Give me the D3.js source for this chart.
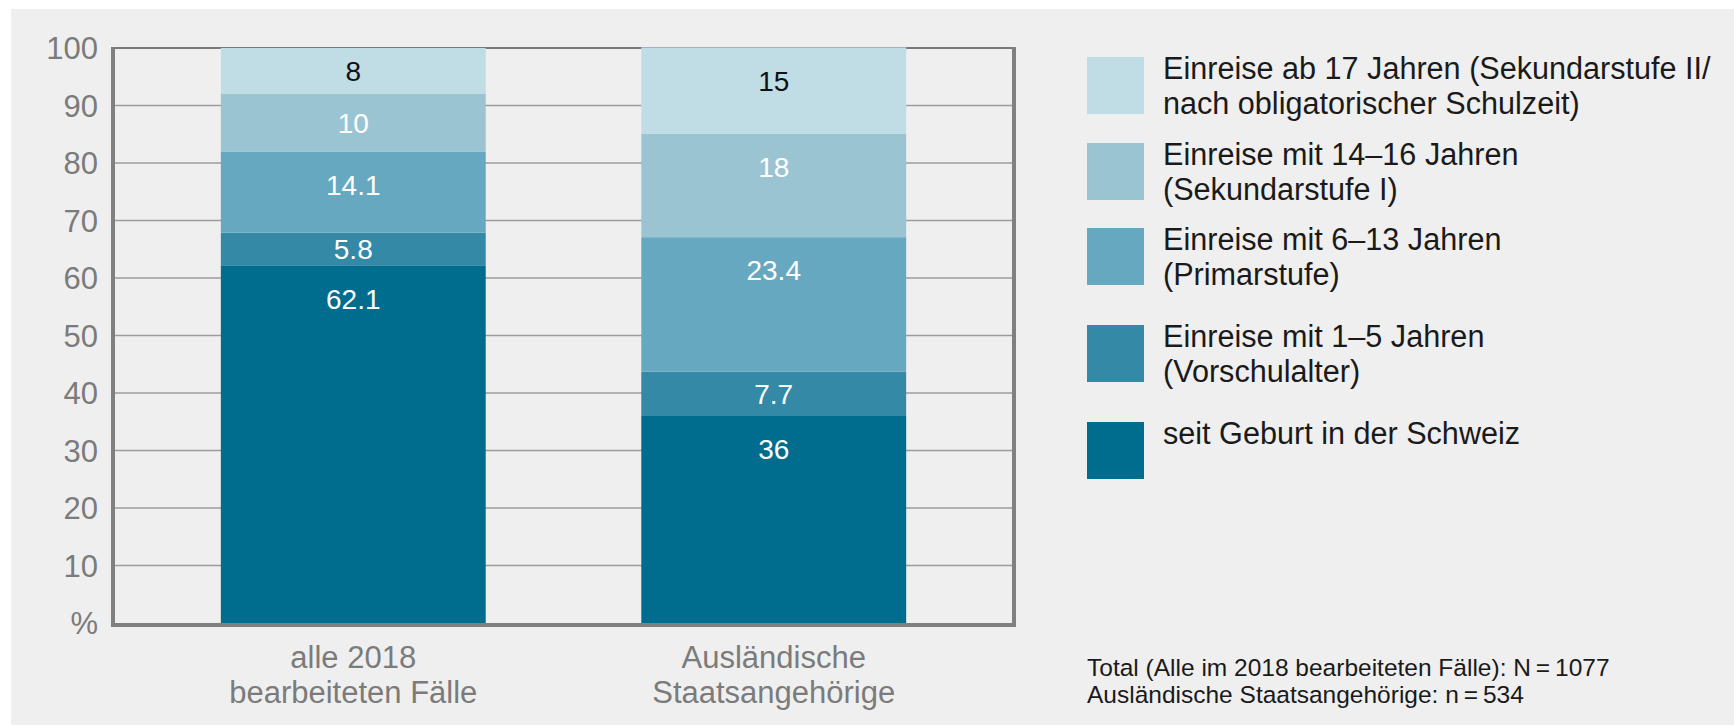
<!DOCTYPE html>
<html>
<head>
<meta charset="utf-8">
<script src="https://cdn.jsdelivr.net/npm/d3@7"></script>
<style>
  body { margin: 0; background: #fff; }
  svg text { font-family: "Liberation Sans", Arial, Helvetica, sans-serif; }
</style>
</head>
<body>
<svg id="chart" width="1734" height="726"></svg>
<script>
// categories (x labels, one entry per line)
var categories = ["alle", "auslaender"];
var categoryLines = [["alle 2018", "bearbeiteten Fälle"], ["Ausländische", "Staatsangehörige"]];

// series values (in %), bottom to top
var seitGeburt   = [62.1, 36];
var mit1bis5     = [5.8, 7.7];
var mit6bis13    = [14.1, 23.4];
var mit14bis16   = [10, 18];
var ab17         = [8, 15];

var seriesKeys = ["geburt", "m1_5", "m6_13", "m14_16", "ab17"];
var seriesLabels = [
  ["seit Geburt in der Schweiz"],
  ["Einreise mit 1\u20135 Jahren", "(Vorschulalter)"],
  ["Einreise mit 6\u201313 Jahren", "(Primarstufe)"],
  ["Einreise mit 14\u201316 Jahren", "(Sekundarstufe I)"],
  ["Einreise ab 17 Jahren (Sekundarstufe II/", "nach obligatorischer Schulzeit)"]
];
var seriesColors = ["#006d8f", "#3389a6", "#66a8c0", "#9bc4d2", "#c0dde6"];

var yTicks = [0, 10, 20, 30, 40, 50, 60, 70, 80, 90, 100];
var yTickLabels = ["%", "10", "20", "30", "40", "50", "60", "70", "80", "90", "100"];

var footnotes = ["Total (Alle im 2018 bearbeiteten Fälle): N\u2009=\u20091077",
                 "Ausländische Staatsangehörige: n\u2009=\u2009534"];

// build table for d3.stack
var table = categories.map(function(c, i) {
  return { cat: c, geburt: seitGeburt[i], m1_5: mit1bis5[i], m6_13: mit6bis13[i],
           m14_16: mit14bis16[i], ab17: ab17[i] };
});

var svg = d3.select("#chart");
var plotL = 113, plotR = 1014, plotT = 48, plotB = 623;

svg.append("rect").attr("x", 11).attr("y", 9).attr("width", 1723).attr("height", 716)
  .attr("fill", "#efefef");

var x = d3.scaleBand().domain(categories).range([plotL, plotR])
  .paddingInner(0.37).paddingOuter(0.2565);
var y = d3.scaleLinear().domain([0, 100]).range([plotB, plotT]);

// grid lines
svg.append("g").selectAll("line")
  .data(yTicks.filter(function(d) { return d > 0; }))
  .enter().append("line")
  .attr("x1", plotL).attr("x2", plotR)
  .attr("y1", function(d) { return y(d); }).attr("y2", function(d) { return y(d); })
  .attr("stroke", function(d) { return d === 100 ? "#7a7a7a" : "#9c9c9c"; })
  .attr("stroke-width", function(d) { return d === 100 ? 2 : 1.5; });

// y tick labels
svg.append("g").selectAll("text")
  .data(yTicks)
  .enter().append("text")
  .attr("x", 98).attr("y", function(d) { return y(d); })
  .attr("dy", "0.36em")
  .attr("text-anchor", "end")
  .attr("font-size", 31)
  .attr("fill", "#7b7b7b")
  .text(function(d, i) { return yTickLabels[i]; });

// stacked bars
var stacked = d3.stack().keys(seriesKeys)(table);

var layers = svg.append("g").selectAll("g")
  .data(stacked)
  .enter().append("g")
  .attr("fill", function(d, i) { return seriesColors[i]; });

layers.selectAll("rect")
  .data(function(d) { return d; })
  .enter().append("rect")
  .attr("x", function(d) { return x(d.data.cat); })
  .attr("width", x.bandwidth())
  .attr("y", function(d) { return y(d[1]); })
  .attr("height", function(d) { return y(d[0]) - y(d[1]); });

// value labels: near top of segment, or centred when segment is small
layers.each(function(layer, li) {
  d3.select(this).selectAll("text")
    .data(layer)
    .enter().append("text")
    .attr("x", function(d) { return x(d.data.cat) + x.bandwidth() / 2; })
    .attr("y", function(d) {
      var t = y(d[1]), mid = (y(d[0]) + y(d[1])) / 2;
      return Math.min(t + 33, mid);
    })
    .attr("dy", "0.36em")
    .attr("text-anchor", "middle")
    .attr("font-size", 28)
    .attr("fill", li === seriesKeys.length - 1 ? "#111" : "#fff")
    .text(function(d) { return d.data[layer.key]; });
});

// axes frame
svg.append("line").attr("x1", plotL).attr("x2", plotL).attr("y1", plotT - 1).attr("y2", plotB + 4)
  .attr("stroke", "#808080").attr("stroke-width", 4);
svg.append("line").attr("x1", plotR).attr("x2", plotR).attr("y1", plotT - 1).attr("y2", plotB + 4)
  .attr("stroke", "#808080").attr("stroke-width", 4);
svg.append("line").attr("x1", plotL - 2).attr("x2", plotR + 2).attr("y1", plotB + 2).attr("y2", plotB + 2)
  .attr("stroke", "#808080").attr("stroke-width", 4);

// x labels
svg.append("g").selectAll("text")
  .data(categories)
  .enter().append("text")
  .attr("text-anchor", "middle")
  .attr("font-size", 31)
  .attr("fill", "#7b7b7b")
  .each(function(c, i) {
    var t = d3.select(this);
    categoryLines[i].forEach(function(line, j) {
      t.append("tspan").attr("x", x(c) + x.bandwidth() / 2).attr("y", 668 + j * 35).text(line);
    });
  });

// legend, top item first
var legendY = [57, 143, 228, 325, 422];
var order = [4, 3, 2, 1, 0];
var legend = svg.append("g").selectAll("g")
  .data(order)
  .enter().append("g");

legend.append("rect")
  .attr("x", 1087).attr("width", 57).attr("height", 57)
  .attr("y", function(d, i) { return legendY[i]; })
  .attr("fill", function(d) { return seriesColors[d]; });

legend.append("text")
  .attr("font-size", 30.6)
  .attr("fill", "#1a1a1a")
  .each(function(d, i) {
    var t = d3.select(this);
    seriesLabels[d].forEach(function(line, j) {
      t.append("tspan").attr("x", 1163).attr("y", legendY[i] + 22 + j * 35).text(line);
    });
  });

// footnote
svg.append("text")
  .attr("font-size", 24.5)
  .attr("fill", "#1a1a1a")
  .selectAll("tspan")
  .data(footnotes)
  .enter().append("tspan")
  .attr("x", 1087)
  .attr("y", function(d, i) { return 676 + i * 27; })
  .text(function(d) { return d; });
</script>
</body>
</html>
